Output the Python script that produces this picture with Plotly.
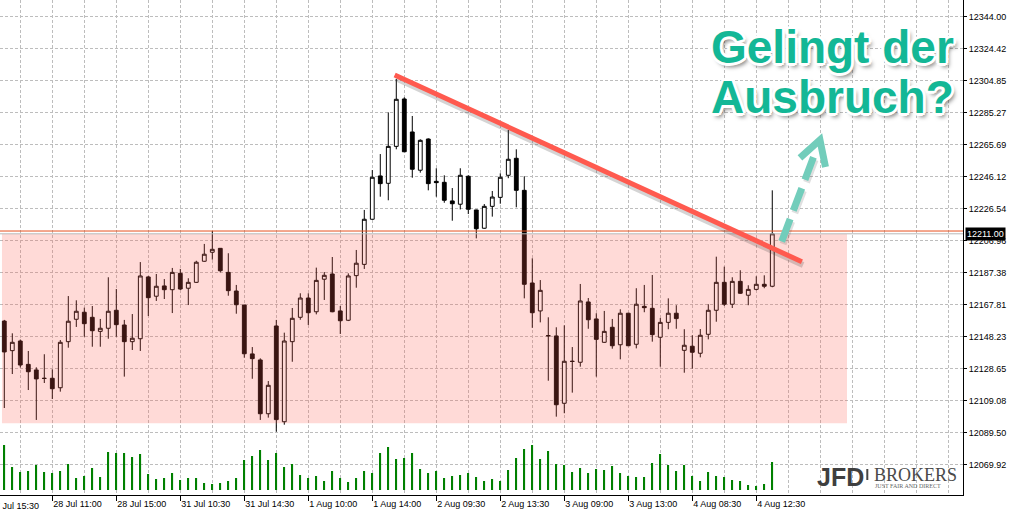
import plotly.graph_objects as go

# ---------------- data (30-minute candles) ----------------
open_ = [12157.6, 12139.5, 12145.4, 12131.1, 12127.7, 12122.6, 12122.6, 12116.8, 12145.0, 12158.7,
         12163.0, 12159.9, 12151.3, 12153.2, 12164.2, 12155.2, 12145.0, 12146.8, 12184.6, 12172.8,
         12179.1, 12176.8, 12186.8, 12177.7, 12181.3, 12194.2, 12199.7, 12202.1, 12187.4, 12176.0,
         12167.4, 12137.5, 12133.8, 12100.9, 12154.6, 12096.0, 12145.0, 12159.9, 12171.7, 12163.3,
         12183.2, 12186.4, 12163.8, 12158.1, 12185.4, 12192.3, 12219.9, 12246.4, 12241.9, 12264.5,
         12293.5, 12273.3, 12249.9, 12269.0, 12243.1, 12242.5, 12231.1, 12229.1, 12246.2, 12225.6,
         12214.4, 12227.8, 12233.3, 12246.8, 12257.2, 12237.6, 12180.9, 12163.8, 12148.7, 12148.5,
         12107.3, 12133.0, 12132.4, 12169.3, 12158.9, 12144.6, 12153.8, 12143.1, 12162.4, 12143.4,
         12166.6, 12165.4, 12147.7, 12156.8, 12162.4, 12139.7, 12142.2, 12137.9, 12149.5, 12164.2,
         12181.3, 12167.9, 12181.9, 12173.4, 12177.0, 12180.1, 12178.9]
high = [12158.3, 12150.1, 12146.3, 12139.3, 12129.3, 12137.3, 12128.1, 12146.0, 12172.9, 12170.3,
        12165.8, 12166.8, 12158.9, 12184.4, 12177.2, 12158.3, 12161.9, 12193.7, 12185.2, 12186.4,
        12183.3, 12190.1, 12189.5, 12183.8, 12194.5, 12204.8, 12212.7, 12202.3, 12199.1, 12179.7,
        12167.6, 12141.7, 12134.8, 12120.9, 12158.3, 12150.5, 12165.6, 12174.6, 12174.6, 12190.3,
        12187.6, 12196.8, 12166.8, 12186.8, 12201.1, 12225.6, 12250.0, 12259.8, 12285.3, 12305.7,
        12294.5, 12283.1, 12268.8, 12269.4, 12251.1, 12246.8, 12239.0, 12251.1, 12246.8, 12225.8,
        12229.2, 12237.2, 12248.0, 12274.5, 12262.7, 12246.2, 12196.0, 12182.7, 12159.9, 12153.8,
        12155.0, 12141.7, 12180.3, 12171.7, 12162.4, 12163.8, 12158.9, 12164.8, 12162.6, 12177.7,
        12179.7, 12185.8, 12159.5, 12171.5, 12167.3, 12152.6, 12148.9, 12152.7, 12167.9, 12197.0,
        12190.9, 12184.4, 12188.7, 12179.5, 12185.0, 12185.6, 12237.6]
low = [12104.4, 12125.2, 12129.2, 12115.4, 12097.1, 12119.7, 12109.9, 12114.4, 12141.3, 12154.0,
       12148.0, 12141.9, 12141.9, 12146.8, 12148.0, 12123.6, 12139.9, 12139.3, 12160.7, 12169.9,
       12171.1, 12162.5, 12176.6, 12167.4, 12181.0, 12193.9, 12195.2, 12187.4, 12173.1, 12162.1,
       12135.2, 12122.3, 12097.1, 12098.5, 12089.9, 12094.2, 12132.7, 12158.4, 12155.2, 12161.7,
       12170.5, 12163.0, 12149.7, 12157.6, 12178.0, 12189.5, 12219.6, 12233.7, 12231.5, 12262.7,
       12261.0, 12245.3, 12248.4, 12237.6, 12233.7, 12230.0, 12219.0, 12225.9, 12223.1, 12208.2,
       12214.1, 12221.5, 12229.4, 12245.0, 12227.2, 12171.5, 12153.5, 12156.8, 12121.1, 12099.1,
       12101.2, 12113.8, 12129.7, 12152.9, 12123.6, 12144.3, 12140.7, 12134.2, 12142.3, 12140.9,
       12163.0, 12145.0, 12129.7, 12152.6, 12152.9, 12126.0, 12128.5, 12135.4, 12146.4, 12157.2,
       12166.8, 12165.6, 12174.2, 12167.3, 12176.4, 12177.7, 12178.3]
close = [12138.7, 12144.6, 12130.7, 12126.6, 12122.2, 12122.5, 12116.2, 12144.6, 12157.5, 12163.6,
         12156.0, 12151.7, 12153.2, 12163.6, 12155.4, 12145.0, 12147.1, 12185.2, 12171.9, 12178.9,
         12176.8, 12187.4, 12177.2, 12181.3, 12193.6, 12198.5, 12201.5, 12188.4, 12176.2, 12167.6,
         12137.6, 12134.6, 12100.9, 12118.3, 12097.3, 12145.4, 12159.3, 12171.7, 12162.7, 12182.5,
         12185.6, 12163.3, 12157.8, 12185.2, 12193.0, 12219.9, 12245.6, 12241.7, 12264.5, 12293.3,
         12261.2, 12250.5, 12268.2, 12241.7, 12242.3, 12231.5, 12229.4, 12246.8, 12226.0, 12214.1,
         12227.8, 12233.5, 12245.6, 12256.6, 12237.6, 12180.1, 12162.7, 12176.4, 12148.6, 12106.4,
         12133.0, 12132.9, 12169.9, 12158.4, 12146.4, 12151.3, 12142.5, 12162.4, 12142.5, 12167.9,
         12165.8, 12149.3, 12156.8, 12162.4, 12159.1, 12142.8, 12138.5, 12148.9, 12164.2, 12181.3,
         12167.9, 12181.9, 12174.6, 12177.0, 12180.1, 12178.9, 12211.0]
volume = [45, 23, 18, 19, 25, 18, 17, 19, 26, 12, 14, 22, 13, 38, 37, 37, 33, 36, 16, 11,
          12, 17, 10, 12, 12, 7, 6, 7, 9, 12, 30, 34, 40, 30, 37, 23, 26, 15, 12, 14,
          9, 19, 12, 8, 12, 19, 17, 37, 43, 31, 32, 37, 21, 17, 19, 12, 14, 15, 17, 13,
          9, 11, 9, 20, 32, 41, 45, 31, 39, 26, 25, 18, 22, 17, 21, 20, 24, 17, 14, 13,
          13, 27, 36, 25, 19, 25, 14, 9, 18, 14, 13, 10, 9, 5, 4, 6, 28]

x_label_text = ["27 Jul 15:30", "28 Jul 11:00", "28 Jul 15:00", "31 Jul 10:30", "31 Jul 14:30",
                "1 Aug 10:00", "1 Aug 14:00", "2 Aug 09:30", "2 Aug 13:30", "3 Aug 09:00",
                "3 Aug 13:00", "4 Aug 08:30", "4 Aug 12:30"]
x_label_pos = [-2, 6, 14, 22, 30, 38, 46, 54, 62, 70, 78, 86, 94]
y_tick_vals = [12069.92, 12089.50, 12109.08, 12128.65, 12148.23, 12167.81, 12187.38, 12206.96,
               12226.54, 12246.12, 12265.69, 12285.27, 12304.85, 12324.42, 12344.00]
last_price = 12211.00
ask_price = 12212.7
zone_low, zone_high = 12095.0, 12210.9
trend_start = (48.8, 12308.2)
trend_end = (99.7, 12193.9)
title_lines = ["Gelingt der", "Ausbruch?"]

# ---------------- figure ----------------
idx = list(range(len(open_)))
X_RANGE = [-0.5375, 119.84]
Y_RANGE = [12051.17, 12354.06]
GRID = "#BDBDBD"
FONT = "Liberation Sans"

fig = go.Figure()
fig.add_trace(go.Bar(
    x=idx, y=volume, yaxis="y2", width=0.2,
    marker=dict(color="#008000", line=dict(width=0)), hoverinfo="skip", showlegend=False))
fig.add_trace(go.Candlestick(
    x=idx, open=open_, high=high, low=low, close=close,
    increasing=dict(fillcolor="#FFFFFF", line=dict(color="#000000", width=1)),
    decreasing=dict(fillcolor="#000000", line=dict(color="#000000", width=1)),
    whiskerwidth=0, showlegend=False))

major = [p for p in x_label_pos if p >= 0]
major_txt = [t for p, t in zip(x_label_pos, x_label_text) if p >= 0]
minor_grid = [g for g in range(2, 120, 4) if g not in major]

fig.update_layout(
    width=1009, height=514, autosize=False,
    margin=dict(l=0, r=46, t=0, b=19, autoexpand=False),
    paper_bgcolor="white", plot_bgcolor="white",
    font=dict(family=FONT, size=9, color="black"),
    boxgap=0.32,
    showlegend=False,
    xaxis=dict(
        range=X_RANGE, rangeslider=dict(visible=False),
        tickmode="array", tickvals=major, ticktext=major_txt,
        ticklabelposition="outside right",
        ticks="outside", ticklen=5, tickcolor="black", tickwidth=1,
        showline=True, linecolor="black", linewidth=1,
        showgrid=True, gridcolor=GRID, griddash="3px,2px", gridwidth=1,
        zeroline=False,
        tickfont=dict(family=FONT, size=9, color="black"),
        minor=dict(tickmode="array", tickvals=minor_grid, showgrid=True,
                   gridcolor=GRID, griddash="3px,2px", gridwidth=1, ticks=""),
    ),
    yaxis=dict(
        range=Y_RANGE, side="right",
        tickmode="array", tickvals=y_tick_vals, ticktext=[f"{v:.2f}" for v in y_tick_vals],
        ticks="outside", ticklen=3, tickcolor="black",
        showline=True, linecolor="black", linewidth=1,
        showgrid=True, gridcolor=GRID, griddash="3px,2px", gridwidth=1,
        zeroline=False,
        tickfont=dict(family=FONT, size=9, color="black"),
    ),
    yaxis2=dict(overlaying="y", range=[-5, 490], visible=False, fixedrange=True),
)

shapes = [
    # support zone
    dict(type="rect", xref="x", yref="y", x0=-0.29, x1=105.34, y0=zone_low, y1=zone_high,
         fillcolor="rgba(255,92,79,0.227)", line=dict(width=0), layer="above"),
    # price lines
    dict(type="line", xref="paper", yref="y", x0=0, x1=1, y0=last_price, y1=last_price,
         line=dict(color="#B8B8B8", width=1), layer="above"),
    dict(type="line", xref="paper", yref="y", x0=0, x1=1, y0=ask_price, y1=ask_price,
         line=dict(color="#E8501E", width=1), layer="above"),
    # trend line soft shadow + line
    dict(type="line", xref="x", yref="y", x0=trend_start[0] + 0.15, y0=trend_start[1] - 2.0,
         x1=trend_end[0] + 0.15, y1=trend_end[1] - 2.0,
         line=dict(color="rgba(60,60,60,0.22)", width=6), layer="above"),
    dict(type="line", xref="x", yref="y", x0=trend_start[0], y0=trend_start[1],
         x1=trend_end[0], y1=trend_end[1],
         line=dict(color="#FF5A4F", width=5), layer="above"),
    # breakout arrow (dashed shaft + chevron)
    dict(type="line", xref="x", yref="y", x0=97.35, y0=12204.8, x1=101.5, y1=12258.2,
         line=dict(color="rgba(40,40,40,0.15)", width=7, dash="24px,9px"), layer="above"),
    dict(type="line", xref="x", yref="y", x0=97.175, y0=12206.3, x1=101.34, y1=12260.4,
         line=dict(color="#72CDBB", width=7, dash="24px,9px"), layer="above"),
    dict(type="path", xref="x", yref="y",
         path="M 99.46,12257.4 L 101.96,12268.4 L 102.65,12251.9",
         line=dict(color="#72CDBB", width=7), layer="above"),
    # logo separator
    dict(type="line", xref="paper", yref="paper", x0=867.3 / 963, x1=867.3 / 963,
         y0=1 - 469 / 495, y1=1 - 480 / 495, line=dict(color="#444", width=2), layer="above"),
]
fig.update_layout(shapes=shapes)

outline = ("2px 2px 0 #fff, -2px -2px 0 #fff, 2px -2px 0 #fff, -2px 2px 0 #fff, "
           "0 3px 0 #fff, 3px 0 0 #fff, -3px 0 0 #fff, 0 -3px 0 #fff, "
           "3px 4px 4px rgba(0,0,0,0.5)")
annotations = [
    dict(text=title_lines[0], xref="paper", yref="paper", x=709 / 963, y=1 - 47 / 495,
         xanchor="left", yanchor="middle", showarrow=False,
         font=dict(family=FONT, size=46, color="#13B796", weight="bold", shadow=outline)),
    dict(text=title_lines[1], xref="paper", yref="paper", x=709 / 963, y=1 - 97 / 495,
         xanchor="left", yanchor="middle", showarrow=False,
         font=dict(family=FONT, size=46, color="#13B796", weight="bold", shadow=outline)),
    # current price label
    dict(text=f"{last_price:.2f}", xref="paper", yref="y", x=1, y=last_price, xshift=2,
         xanchor="left", yanchor="middle", showarrow=False, bgcolor="black", borderpad=1,
         font=dict(family=FONT, size=9, color="white")),
    # first, partly hidden time label
    dict(text=x_label_text[0], xref="paper", yref="paper",
         x=(x_label_pos[0] - X_RANGE[0]) / (X_RANGE[1] - X_RANGE[0]), y=-10.5 / 495,
         xanchor="left", yanchor="middle", showarrow=False,
         font=dict(family=FONT, size=9, color="black")),
    # logo
    dict(text="JFD", xref="paper", yref="paper", x=815 / 963, y=1 - 477 / 495,
         xanchor="left", yanchor="middle", showarrow=False,
         font=dict(family=FONT, size=25, color="#3F3F3F", weight="bold")),
    dict(text="BROKERS", xref="paper", yref="paper", x=872 / 963, y=1 - 475 / 495,
         xanchor="left", yanchor="middle", showarrow=False,
         font=dict(family="Liberation Serif", size=18, color="#4A4A4A")),
    dict(text="JUST FAIR AND DIRECT", xref="paper", yref="paper", x=873 / 963, y=1 - 486 / 495,
         xanchor="left", yanchor="middle", showarrow=False,
         font=dict(family="Liberation Serif", size=6, color="#666666")),
]
fig.update_layout(annotations=annotations)

fig.write_html(
    "out.html",
    config={"displayModeBar": False},
    post_script="document.body.style.margin='0';document.body.style.overflow='hidden';",
)
